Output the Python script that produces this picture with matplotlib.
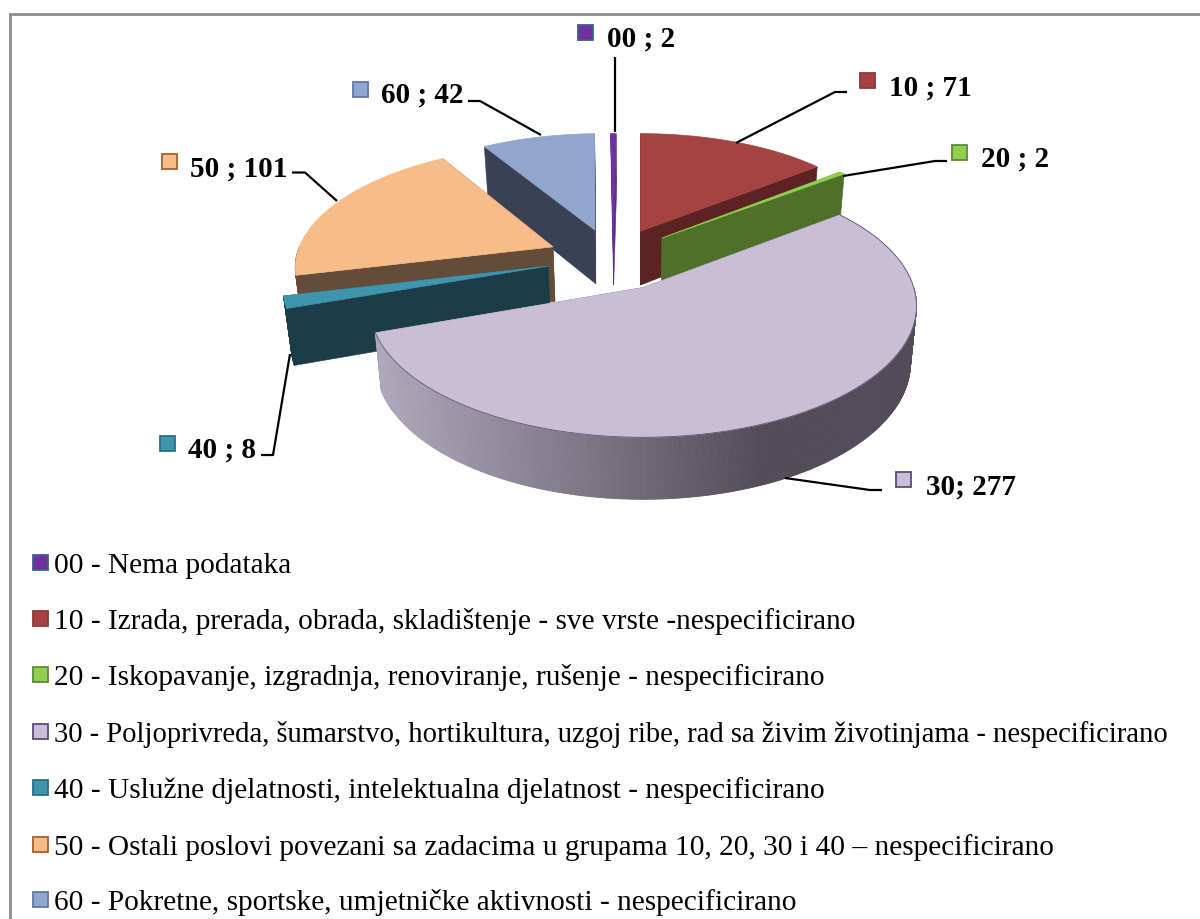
import numpy as np
import matplotlib
matplotlib.use("Agg")
import matplotlib.pyplot as plt
from matplotlib.patches import Polygon, Rectangle
from matplotlib.collections import PolyCollection

# data
codes = ["00", "10", "20", "30", "40", "50", "60"]
values = [2, 71, 2, 277, 8, 101, 42]
point_labels = ["00 ; 2", "10 ; 71", "20 ; 2", "30; 277", "40 ; 8", "50 ; 101", "60 ; 42"]
legend_labels = [
    "00 - Nema podataka",
    "10 - Izrada, prerada, obrada, skladištenje - sve vrste -nespecificirano",
    "20 - Iskopavanje, izgradnja, renoviranje, rušenje - nespecificirano",
    "30 - Poljoprivreda, šumarstvo, hortikultura, uzgoj ribe, rad sa živim životinjama - nespecificirano",
    "40 - Uslužne djelatnosti, intelektualna djelatnost - nespecificirano",
    "50 - Ostali poslovi povezani sa zadacima u grupama 10, 20, 30 i 40 – nespecificirano",
    "60 - Pokretne, sportske, umjetničke aktivnosti - nespecificirano",
]

# styles
top_colors = ["#7030a0", "#a54342", "#8fcf4f", "#c8bed6", "#3f95ae", "#f6bc89", "#91a6cc"]
wall_colors = ["#5a2d8c", "#5c2322", "#4f7028", "#55505e", "#1b3c48", "#654c38", "#3a4154"]
edge_colors = ["#3f5f8f", "#8c3a38", "#5f8a30", "#5d4a7c", "#2a6f85", "#a8612c", "#5f78a8"]
# the long row 30 is squeezed a little in the original
legend_sizes = [21.15, 21.15, 21.15, 20.6, 21.15, 21.15, 21.15]

# how far each slice is pulled out, in units of the pie radius
explode = [(-0.118, 0.447), (-0.01, 0.447), (0.074, 0.387), (0.0, -0.02),
           (-0.359, 0.151), (-0.348, 0.311), (-0.19, 0.457)]
radius = [0.97, 0.97, 0.98, 1.0, 0.985, 0.98, 0.96]
first_angle = -1.5

# label placement: marker left/top, text left/centre
label_marker = [(578, 26), (860, 74), (952, 146), (896, 473), (160, 437), (162, 155), (353, 83)]
label_text = [(607, 36), (889, 85), (981, 156), (926, 484), (188, 447), (190, 166), (381, 92)]
leaders = [
    [(614.5, 58), (614.5, 133)],
    [(847, 93), (835, 93), (736, 144)],
    [(947, 162), (935, 162), (843, 177)],
    [(882, 491), (870, 491), (785, 479)],
    [(261, 456), (273, 456), (290, 355)],
    [(292, 173.5), (305, 173.5), (337, 202)],
    [(468, 102), (480, 102), (541, 136)],
]
legend_y = [563, 619, 675, 732, 788, 845, 900]

# camera
ax0, ay0 = 643, 286
Rx, Ry = 270, 128
persp = 0.14
depth = 56
bottom_scale = 0.978


def project(X, Y, bottom=False):
    X = np.asarray(X, dtype=float)
    Y = np.asarray(Y, dtype=float)
    w = 1 / (1 + persp * Y)
    s = bottom_scale if bottom else 1.0
    sx = ax0 + Rx * X * w * s
    sy = ay0 - Ry * Y * w * s
    if bottom:
        sy = sy + depth * w
    return np.column_stack([sx, sy])


def mix(c1, c2, t):
    a = np.array(matplotlib.colors.to_rgb(c1))
    b = np.array(matplotlib.colors.to_rgb(c2))
    return tuple(a + (b - a) * t)


fig = plt.figure(figsize=(12, 9.2), dpi=100)
ax = fig.add_axes([0, 0, 1, 1])
ax.set_xlim(0, 1200)
ax.set_ylim(920, 0)
ax.axis("off")

# frame, only top and left show
ax.plot([10, 10, 1200], [920, 14.5, 14.5], color="#8c8c8c", lw=2, solid_joinstyle="miter", zorder=1)

angles = np.cumsum([0] + values) / sum(values) * 360.0 + first_angle
draw_order = [6, 0, 1, 5, 2, 4, 3]

for z, i in enumerate(draw_order):
    t0, t1 = np.radians(angles[i]), np.radians(angles[i + 1])
    ex, ey = explode[i]
    r = radius[i]
    th = np.linspace(t0, t1, max(int(np.degrees(t1 - t0) * 2), 6))
    X = ex + r * np.sin(th)
    Y = ey + r * np.cos(th)
    zbase = 10 + z * 5

    # flat side faces
    for tt in (t0, t1):
        xs = [ex, ex + r * np.sin(tt)]
        ys = [ey, ey + r * np.cos(tt)]
        quad = np.vstack([project(xs, ys), project(xs[::-1], ys[::-1], bottom=True)])
        ax.add_patch(Polygon(quad, closed=True, fc=wall_colors[i], ec=wall_colors[i], lw=0.4, zorder=zbase))

    # outer rim, front part only
    top = project(X, Y)
    bot = project(X, Y, bottom=True)
    quads = []
    cols = []
    for j in range(len(th) - 1):
        mid = (th[j] + th[j + 1]) / 2
        if np.cos(mid) > 0:
            continue
        quads.append([top[j], top[j + 1], bot[j + 1], bot[j]])
        if codes[i] == "30":
            f = np.clip((top[j][0] - 385) / (765 - 385), 0, 1)
            cols.append(mix("#aea6b9", "#514c58", f))
        else:
            cols.append(matplotlib.colors.to_rgb(wall_colors[i]))
    if quads:
        ax.add_collection(PolyCollection(quads, facecolors=cols, edgecolors=cols, linewidths=0.6, zorder=zbase + 1))

    # top face
    pts = np.vstack([project([ex], [ey]), top])
    ax.add_patch(Polygon(pts, closed=True, fc=top_colors[i], ec=top_colors[i], lw=0.5, zorder=zbase + 2))
    if codes[i] == "30":
        ax.plot(top[:, 0], top[:, 1], color="#5d5270", lw=0.6, zorder=zbase + 3)

# leader lines
for line in leaders:
    xs, ys = zip(*line)
    ax.plot(xs, ys, color="black", lw=1.6, zorder=60, solid_capstyle="butt")

# data labels
for i in range(len(codes)):
    mx, my = label_marker[i]
    ax.add_patch(Rectangle((mx, my), 15, 15, fc=top_colors[i], ec=edge_colors[i], lw=1.3, zorder=70))
    tx, ty = label_text[i]
    ax.text(tx, ty, point_labels[i], fontfamily="Liberation Serif", fontweight="bold", fontsize=21,
            va="center_baseline", ha="left", color="black", zorder=70)

# legend
for i in range(len(codes)):
    ax.add_patch(Rectangle((33, legend_y[i] - 7), 15, 15, fc=top_colors[i], ec=edge_colors[i], lw=1.3, zorder=70))
    ax.text(54, legend_y[i], legend_labels[i], fontfamily="Liberation Serif", fontsize=legend_sizes[i],
            va="center_baseline", ha="left", color="black", zorder=70)

fig.savefig("out.png", dpi=100)
